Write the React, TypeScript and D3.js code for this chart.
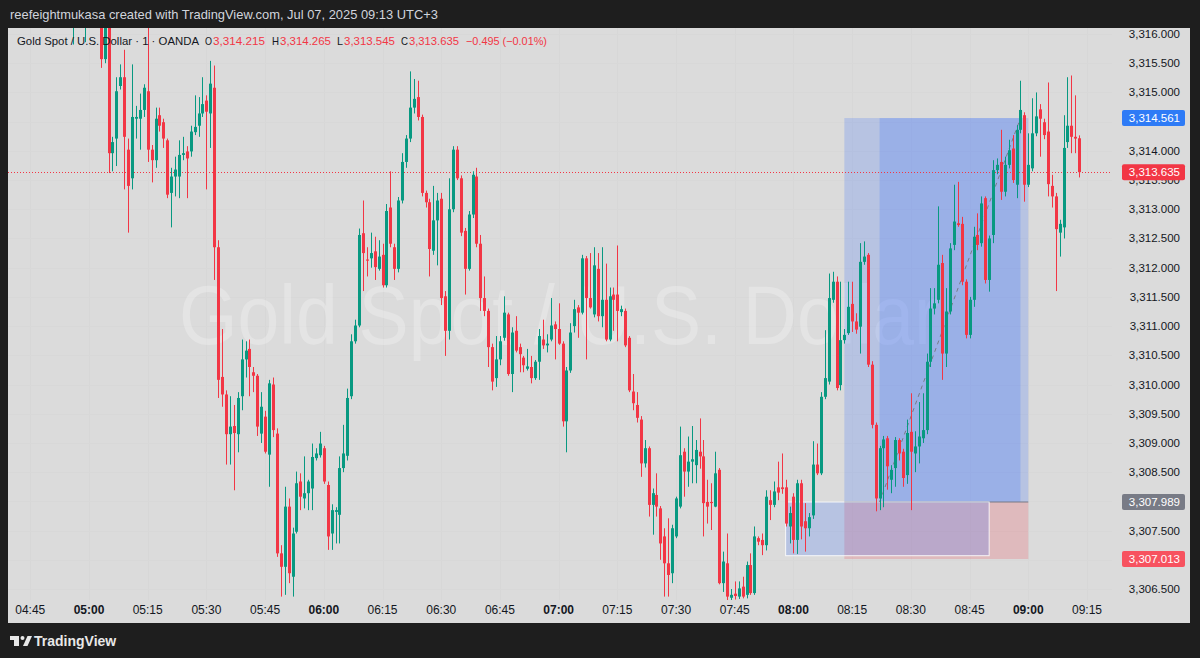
import React from "react";
import * as d3 from "d3";

// Gold Spot / U.S. Dollar, 1-minute bars (OANDA), Jul 07 2025, UTC+3
// Each bar: [open, high, low, close]; first bar is at 04:54 (minute -6 from 05:00)
const FIRST_MINUTE = -6;
const candles: [number, number, number, number][] = [
  [3316.45, 3316.7, 3316.2, 3316.6],
  [3316.6, 3316.8, 3316.3, 3316.4],
  [3316.4, 3316.6, 3315.82, 3316.5],
  [3316.5, 3316.9, 3316.3, 3316.7],
  [3316.7, 3316.9, 3316.4, 3316.5],
  [3316.5, 3316.8, 3315.86, 3316.6],
  [3316.6, 3316.9, 3316.3, 3316.5],
  [3316.5, 3316.7, 3316.2, 3316.35],
  [3316.35, 3316.6, 3316.15, 3316.3],
  [3316.3, 3316.45, 3315.42, 3315.57],
  [3315.57, 3316.4, 3315.5, 3316.3],
  [3316.3, 3316.4, 3313.62, 3313.96],
  [3313.96, 3314.24, 3313.65, 3314.15],
  [3314.21, 3315.26, 3313.74, 3315.02],
  [3315.11, 3315.48, 3315.05, 3315.26],
  [3315.26, 3315.73, 3313.34, 3314.24],
  [3314.02, 3314.21, 3312.6, 3313.4],
  [3313.53, 3315.48, 3313.34, 3314.58],
  [3314.55, 3314.77, 3314.21, 3314.58],
  [3314.55, 3314.98, 3314.02, 3314.7],
  [3314.7, 3315.14, 3314.58, 3315.08],
  [3315.02, 3316.2, 3313.81, 3314.02],
  [3314.02, 3314.1, 3313.46, 3313.84],
  [3313.84, 3314.74, 3313.71, 3314.55],
  [3314.61, 3314.74, 3314.33, 3314.43],
  [3314.49, 3314.55, 3314.05, 3314.21],
  [3314.18, 3314.21, 3313.19, 3313.25],
  [3313.28, 3313.71, 3312.69, 3313.56],
  [3313.56, 3313.9, 3313.22, 3313.68],
  [3313.56, 3314.18, 3313.19, 3313.93],
  [3313.93, 3314.24, 3313.84, 3313.96],
  [3313.99, 3314.08, 3313.19, 3313.87],
  [3313.99, 3314.43, 3313.9, 3314.33],
  [3314.32, 3314.95, 3314.27, 3314.41],
  [3314.43, 3314.92, 3314.24, 3314.64],
  [3314.64, 3315.26, 3314.58, 3314.8],
  [3314.86, 3314.95, 3313.34, 3314.67],
  [3314.64, 3315.54, 3314.05, 3315.15],
  [3315.08, 3315.46, 3311.79, 3312.35],
  [3312.35, 3312.47, 3309.77, 3310.08],
  [3310.13, 3310.95, 3309.62, 3309.83],
  [3309.83, 3309.9, 3308.63, 3309.15],
  [3309.15, 3309.8, 3308.63, 3309.28],
  [3309.29, 3309.65, 3308.19, 3309.17],
  [3309.15, 3309.87, 3308.84, 3309.77],
  [3309.8, 3310.77, 3309.56, 3310.43],
  [3310.43, 3310.74, 3310.12, 3310.58],
  [3310.61, 3310.77, 3309.8, 3310.3],
  [3310.21, 3310.3, 3309.87, 3310.15],
  [3310.15, 3310.18, 3309.12, 3309.28],
  [3309.16, 3309.87, 3309.0, 3309.62],
  [3309.45, 3309.55, 3308.82, 3308.85],
  [3308.8, 3310.08, 3308.25, 3310.02],
  [3310.0, 3310.12, 3309.1, 3309.22],
  [3309.16, 3309.25, 3307.05, 3307.11],
  [3307.11, 3307.25, 3306.37, 3306.88],
  [3306.88, 3308.25, 3306.4, 3307.91],
  [3307.91, 3308.05, 3306.6, 3306.77],
  [3306.71, 3307.55, 3306.37, 3307.45],
  [3307.48, 3308.51, 3307.45, 3308.31],
  [3308.34, 3308.48, 3307.85, 3308.08],
  [3308.05, 3308.77, 3307.88, 3308.14],
  [3308.14, 3308.37, 3307.85, 3308.34],
  [3308.22, 3308.99, 3307.85, 3308.76],
  [3308.74, 3308.91, 3308.7, 3308.82],
  [3308.79, 3309.19, 3308.75, 3308.99],
  [3308.91, 3308.95, 3308.3, 3308.34],
  [3308.28, 3308.34, 3307.17, 3307.4],
  [3307.45, 3307.95, 3307.17, 3307.85],
  [3307.82, 3307.9, 3307.28, 3307.85],
  [3307.77, 3308.77, 3307.28, 3308.57],
  [3308.57, 3309.31, 3308.5, 3308.82],
  [3308.78, 3309.93, 3308.7, 3309.77],
  [3309.8, 3310.86, 3309.75, 3310.74],
  [3310.74, 3311.11, 3310.7, 3311.01],
  [3311.01, 3312.67, 3310.98, 3312.56],
  [3312.59, 3313.15, 3311.6, 3312.25],
  [3312.14, 3312.35, 3311.85, 3312.12],
  [3312.16, 3312.6, 3312.0, 3312.25],
  [3312.28, 3312.53, 3311.79, 3312.01],
  [3311.98, 3312.47, 3311.95, 3312.19],
  [3312.22, 3312.41, 3311.66, 3311.7],
  [3311.7, 3313.09, 3311.66, 3312.97],
  [3313.03, 3313.65, 3312.35, 3312.41],
  [3312.35, 3312.41, 3311.79, 3311.98],
  [3311.98, 3313.21, 3311.92, 3313.15],
  [3313.15, 3313.96, 3313.1, 3313.81],
  [3313.81, 3314.27, 3313.71, 3314.21],
  [3314.21, 3315.36, 3314.15, 3314.74],
  [3314.74, 3315.23, 3314.64, 3314.89],
  [3314.92, 3315.2, 3314.52, 3314.58],
  [3314.58, 3314.62, 3313.22, 3313.28],
  [3313.28, 3313.32, 3313.03, 3313.12],
  [3313.12, 3313.18, 3311.85, 3312.32],
  [3312.29, 3313.4, 3312.22, 3312.81],
  [3312.81, 3313.28, 3312.04, 3313.15],
  [3313.18, 3313.28, 3311.36, 3311.48],
  [3311.51, 3311.6, 3310.49, 3310.92],
  [3310.92, 3313.53, 3310.77, 3313.0],
  [3313.0, 3314.08, 3312.95, 3314.02],
  [3314.02, 3314.08, 3313.5, 3313.53],
  [3313.53, 3313.58, 3312.54, 3312.6],
  [3312.63, 3312.68, 3311.54, 3311.98],
  [3311.98, 3312.97, 3311.95, 3312.91],
  [3312.91, 3313.65, 3312.85, 3313.59],
  [3313.56, 3313.71, 3312.35, 3312.41],
  [3312.41, 3312.56, 3311.26, 3311.48],
  [3311.48, 3311.85, 3311.17, 3311.26],
  [3311.26, 3311.3, 3310.3, 3310.64],
  [3310.64, 3310.7, 3309.9, 3310.05],
  [3310.11, 3310.83, 3309.96, 3310.43],
  [3310.43, 3310.83, 3310.33, 3310.74],
  [3310.8, 3311.51, 3310.75, 3311.23],
  [3311.2, 3311.23, 3310.15, 3310.18],
  [3310.18, 3310.98, 3309.87, 3310.89],
  [3310.92, 3311.17, 3310.55, 3310.58],
  [3310.64, 3310.7, 3310.21, 3310.52],
  [3310.46, 3310.49, 3310.21, 3310.33],
  [3310.27, 3310.61, 3310.24, 3310.31],
  [3310.3, 3310.49, 3310.02, 3310.11],
  [3310.11, 3310.42, 3310.08, 3310.39],
  [3310.39, 3310.95, 3310.08, 3310.83],
  [3310.77, 3311.11, 3310.61, 3310.67],
  [3310.67, 3310.86, 3310.55, 3310.7],
  [3310.77, 3311.48, 3310.74, 3311.01],
  [3311.03, 3311.08, 3310.43, 3310.95],
  [3310.95, 3311.39, 3310.68, 3310.7],
  [3310.7, 3310.74, 3309.28, 3309.37],
  [3309.37, 3310.3, 3308.84, 3310.24],
  [3310.24, 3311.05, 3310.2, 3310.89],
  [3311.0, 3311.45, 3310.89, 3311.29],
  [3311.32, 3311.36, 3310.8, 3311.23],
  [3311.23, 3312.22, 3311.2, 3312.16],
  [3312.16, 3312.2, 3310.43, 3311.48],
  [3311.48, 3312.25, 3311.3, 3311.32],
  [3311.2, 3312.35, 3311.15, 3312.04],
  [3311.98, 3312.25, 3311.08, 3311.17],
  [3311.17, 3312.35, 3310.98, 3311.45],
  [3311.45, 3312.07, 3310.74, 3310.77],
  [3310.77, 3311.66, 3310.74, 3311.51],
  [3311.54, 3311.66, 3310.92, 3311.45],
  [3311.54, 3312.38, 3310.74, 3311.26],
  [3311.24, 3311.35, 3311.17, 3311.29],
  [3311.26, 3311.3, 3310.64, 3310.67],
  [3310.8, 3310.83, 3309.87, 3309.9],
  [3309.88, 3310.18, 3309.56, 3309.68],
  [3309.65, 3309.87, 3309.35, 3309.43],
  [3309.4, 3309.46, 3308.42, 3308.65],
  [3308.65, 3309.05, 3308.58, 3308.91],
  [3308.91, 3308.94, 3307.74, 3307.94],
  [3307.94, 3308.22, 3307.43, 3308.14],
  [3308.11, 3308.48, 3307.74, 3307.91],
  [3307.88, 3307.92, 3307.0, 3307.28],
  [3307.4, 3307.54, 3306.37, 3306.94],
  [3306.94, 3307.71, 3306.37, 3306.74],
  [3306.77, 3307.6, 3306.6, 3307.54],
  [3307.4, 3308.08, 3307.37, 3308.05],
  [3307.91, 3309.28, 3307.88, 3308.79],
  [3308.85, 3308.91, 3308.08, 3308.51],
  [3308.51, 3309.11, 3308.25, 3308.68],
  [3308.68, 3309.29, 3308.31, 3308.72],
  [3308.62, 3309.05, 3308.31, 3308.88],
  [3308.85, 3309.42, 3308.56, 3308.77],
  [3308.77, 3309.05, 3307.4, 3307.97],
  [3307.99, 3308.37, 3307.62, 3307.91],
  [3307.99, 3308.31, 3307.51, 3307.97],
  [3307.91, 3308.85, 3307.9, 3308.48],
  [3308.54, 3308.57, 3306.58, 3306.6],
  [3306.6, 3307.14, 3306.45, 3306.97],
  [3306.94, 3307.45, 3306.3, 3306.37],
  [3306.35, 3306.5, 3306.28, 3306.4],
  [3306.42, 3306.63, 3306.32, 3306.38],
  [3306.37, 3306.63, 3306.33, 3306.51],
  [3306.54, 3306.71, 3306.34, 3306.37],
  [3306.4, 3306.97, 3306.34, 3306.91],
  [3306.91, 3307.11, 3306.4, 3306.43],
  [3306.43, 3307.57, 3306.4, 3307.4],
  [3307.37, 3307.4, 3307.25, 3307.31],
  [3307.34, 3307.45, 3307.08, 3307.25],
  [3307.25, 3308.19, 3307.16, 3308.08],
  [3308.02, 3308.19, 3307.68, 3307.94],
  [3307.94, 3308.34, 3307.9, 3308.17],
  [3308.24, 3308.68, 3308.02, 3308.15],
  [3308.24, 3308.82, 3308.13, 3308.21],
  [3308.24, 3308.37, 3307.57, 3307.62],
  [3307.57, 3307.91, 3307.28, 3307.8],
  [3308.08, 3308.14, 3307.11, 3307.34],
  [3307.34, 3308.37, 3307.1, 3308.31],
  [3308.31, 3308.37, 3307.35, 3307.57],
  [3307.66, 3307.97, 3307.14, 3307.54],
  [3307.54, 3307.8, 3307.4, 3307.73],
  [3307.76, 3309.03, 3307.7, 3308.63],
  [3308.63, 3308.99, 3308.45, 3308.48],
  [3308.48, 3309.87, 3308.45, 3309.79],
  [3309.79, 3310.93, 3309.75, 3310.11],
  [3310.05, 3311.9, 3310.0, 3311.48],
  [3311.45, 3311.93, 3311.4, 3311.76],
  [3311.76, 3311.85, 3309.9, 3309.94],
  [3309.99, 3311.76, 3309.9, 3310.76],
  [3310.76, 3310.95, 3310.7, 3310.85],
  [3310.88, 3311.76, 3310.85, 3311.33],
  [3311.38, 3311.76, 3310.9, 3311.08],
  [3311.08, 3311.22, 3310.87, 3310.94],
  [3310.99, 3312.42, 3310.53, 3312.1],
  [3312.1, 3312.45, 3312.05, 3312.19],
  [3312.22, 3312.25, 3310.3, 3310.34],
  [3310.34, 3310.4, 3309.25, 3309.31],
  [3309.31, 3309.35, 3307.83, 3308.05],
  [3308.05, 3308.95, 3307.85, 3308.91],
  [3308.91, 3309.12, 3307.9, 3309.06],
  [3309.08, 3309.12, 3308.2, 3308.6],
  [3308.37, 3308.62, 3308.14, 3308.54],
  [3308.57, 3309.1, 3308.25, 3309.05],
  [3309.05, 3309.08, 3308.7, 3308.82],
  [3308.85, 3308.9, 3308.25, 3308.4],
  [3308.45, 3309.4, 3308.3, 3309.17],
  [3309.19, 3309.85, 3307.85, 3308.85],
  [3308.82, 3309.2, 3308.5, 3308.94],
  [3308.94, 3309.7, 3308.65, 3309.11],
  [3309.08, 3309.85, 3309.0, 3309.22],
  [3309.22, 3310.53, 3309.15, 3310.39],
  [3310.39, 3311.65, 3310.3, 3311.3],
  [3311.3, 3311.65, 3311.2, 3311.39],
  [3311.45, 3313.05, 3311.39, 3312.05],
  [3312.08, 3312.22, 3310.08, 3310.53],
  [3310.53, 3311.65, 3310.3, 3311.25],
  [3311.25, 3312.42, 3311.2, 3312.33],
  [3312.39, 3313.42, 3312.3, 3312.79],
  [3312.76, 3313.47, 3312.7, 3312.73],
  [3312.75, 3312.87, 3311.7, 3311.76],
  [3311.76, 3311.8, 3310.79, 3310.85],
  [3310.85, 3311.5, 3310.79, 3311.45],
  [3311.45, 3312.7, 3311.33, 3312.53],
  [3312.56, 3312.93, 3312.3, 3312.39],
  [3312.42, 3313.22, 3312.36, 3313.1],
  [3313.19, 3313.22, 3311.73, 3311.79],
  [3311.79, 3312.55, 3311.59, 3312.5],
  [3312.56, 3313.84, 3312.42, 3313.67],
  [3313.67, 3313.87, 3313.6, 3313.76],
  [3313.81, 3314.36, 3313.16, 3313.3],
  [3313.3, 3313.9, 3313.22, 3313.76],
  [3313.76, 3314.19, 3313.7, 3314.01],
  [3314.04, 3314.27, 3313.45, 3313.5],
  [3313.42, 3314.44, 3313.19, 3314.36],
  [3314.36, 3315.2, 3314.3, 3314.7],
  [3314.61, 3314.66, 3313.13, 3313.42],
  [3313.42, 3314.3, 3313.38, 3313.76],
  [3313.7, 3314.9, 3313.65, 3314.3],
  [3314.3, 3315.0, 3314.25, 3314.59],
  [3314.71, 3314.8, 3313.9, 3314.55],
  [3314.49, 3314.55, 3314.2, 3314.27],
  [3314.33, 3315.17, 3313.22, 3313.43],
  [3313.4, 3313.59, 3313.03, 3313.22],
  [3313.22, 3313.28, 3311.6, 3312.66],
  [3312.6, 3312.82, 3312.19, 3312.75],
  [3312.69, 3314.61, 3312.5, 3314.05],
  [3314.15, 3315.26, 3314.05, 3314.43],
  [3314.43, 3315.29, 3313.96, 3314.24],
  [3314.24, 3314.95, 3313.96, 3314.21],
  [3314.215, 3314.265, 3313.545, 3313.635],
];

// Time axis (minutes after 05:00) and labels
const timeTickMinutes = [-15, 0, 15, 30, 45, 60, 75, 90, 105, 120, 135, 150, 165, 180, 195, 210, 225, 240, 255];
const timeTickLabels = ["04:45", "05:00", "05:15", "05:30", "05:45", "06:00", "06:15", "06:30", "06:45", "07:00", "07:15", "07:30", "07:45", "08:00", "08:15", "08:30", "08:45", "09:00", "09:15"];

// Price axis
const priceTicks = [3316, 3315.5, 3315, 3314.5, 3314, 3313.5, 3313, 3312.5, 3312, 3311.5, 3311, 3310.5, 3310, 3309.5, 3309, 3308.5, 3308, 3307.5, 3307, 3306.5];

// Legend values
const legendO = 3314.215;
const legendH = 3314.265;
const legendL = 3313.545;
const legendC = 3313.635;
const legendChange = -0.495;
const legendChangePct = -0.01;

// Long position drawing (prices and minutes after 05:00)
const posEntry = 3307.989;
const posTarget = 3314.561;
const posStop = 3307.013;
const posStartMin = 193;
const posEndMin = 240;
const posFillStartMin = 202;
const posFillEndMin = 238;
// Small second box
const boxStartMin = 178;
const boxEndMin = 230;
const boxTop = 3307.989;
const boxBottom = 3307.07;

// Price tags on the axis
const tagValues = [posTarget, legendC, posEntry, posStop];

const UP = "#089981";
const DOWN = "#f23645";
const tagColors = ["#2e7bf6", "#f23645", "#787b86", "#f7525f"];
const FONT = "'Liberation Sans', Arial, sans-serif";

export default function App() {
  const x = d3.scaleLinear().domain([0, 255]).range([89, 1087]);
  const y = d3.scaleLinear().domain([3306.5, 3316]).range([589, 34]);
  const fmt = d3.format(",.3f");
  const plotL = 8, plotR = 1112, plotT = 28, plotB = 600;

  const bars = candles.map((c, i) => {
    const [o, h, l, cl] = c;
    const cx = Math.round(x(i + FIRST_MINUTE));
    const up = cl >= o;
    const top = y(Math.max(o, cl));
    const bot = y(Math.min(o, cl));
    return { cx, up, top, bot, hy: y(Math.max(h, o, cl)), ly: y(Math.min(l, o, cl)), key: i };
  });

  // tick labels hidden behind an axis tag
  const visibleTicks = priceTicks.filter((p) => tagValues.every((v) => Math.abs(y(v) - y(p)) > 6));

  const legendParts: { x: number; t: string; c: string; w?: number }[] = [
    { x: 17, t: "Gold Spot / U.S. Dollar · 1 · OANDA", c: "#131722", w: 182 },
    { x: 205, t: "O", c: "#131722", w: 7 },
    { x: 213, t: fmt(legendO), c: DOWN, w: 52 },
    { x: 272, t: "H", c: "#131722", w: 7 },
    { x: 280, t: fmt(legendH), c: DOWN, w: 51 },
    { x: 337, t: "L", c: "#131722", w: 6 },
    { x: 344, t: fmt(legendL), c: DOWN, w: 51 },
    { x: 401, t: "C", c: "#131722", w: 7 },
    { x: 409, t: fmt(legendC), c: DOWN, w: 50 },
    { x: 466, t: `${d3.format(".3f")(legendChange).replace("-", "−")} (${d3.format(".2f")(legendChangePct).replace("-", "−")}%)`, c: DOWN, w: 81 },
  ];

  return (
    <svg width={1200} height={658} style={{ position: "absolute", left: 0, top: 0, display: "block" }} fontFamily={FONT}>
      <defs>
        <clipPath id="plot">
          <rect x={plotL} y={plotT} width={plotR - plotL} height={plotB - plotT} />
        </clipPath>
      </defs>
      <rect x={0} y={0} width={1200} height={658} fill="#1e1e1e" />
      <rect x={8} y={28} width={1182} height={595} fill="#dbdbdb" />
      <text x={10} y={19} fontSize={13} fill="#d1d4dc" textLength={428} lengthAdjust="spacingAndGlyphs">
        reefeightmukasa created with TradingView.com, Jul 07, 2025 09:13 UTC+3
      </text>

      <g clipPath="url(#plot)">
        {timeTickMinutes.map((m) => (
          <line key={"vg" + m} x1={Math.round(x(m)) + 0.5} x2={Math.round(x(m)) + 0.5} y1={plotT} y2={plotB} stroke="#d7d7d7" />
        ))}
        {priceTicks.map((p) => (
          <line key={"hg" + p} x1={plotL} x2={plotR} y1={Math.round(y(p)) + 0.5} y2={Math.round(y(p)) + 0.5} stroke="#d8d8d8" />
        ))}
        <text x={559} y={344} fontSize={84} fill="#ffffff" fillOpacity={0.26} textAnchor="middle" textLength={760} lengthAdjust="spacingAndGlyphs">
          Gold Spot / U.S. Dollar
        </text>

        {/* long position */}
        <rect x={x(posStartMin)} y={y(posTarget)} width={x(posEndMin) - x(posStartMin)} height={y(posEntry) - y(posTarget)} fill="#2962ff" fillOpacity={0.2} />
        <rect x={x(posFillStartMin)} y={y(posTarget)} width={x(posFillEndMin) - x(posFillStartMin)} height={y(posEntry) - y(posTarget)} fill="#2962ff" fillOpacity={0.2} />
        <rect x={x(posStartMin)} y={y(posEntry)} width={x(posEndMin) - x(posStartMin)} height={y(posStop) - y(posEntry)} fill="#f23645" fillOpacity={0.2} />
        <line x1={x(posStartMin)} x2={x(posEndMin)} y1={y(posEntry)} y2={y(posEntry)} stroke="#787b86" strokeWidth={1} />
        <rect x={x(boxStartMin)} y={y(boxTop)} width={x(boxEndMin) - x(boxStartMin)} height={y(boxBottom) - y(boxTop)} fill="#2962ff" fillOpacity={0.2} stroke="#ffffff" strokeOpacity={0.85} strokeWidth={1} />
        <line x1={x(posFillStartMin)} y1={y(posEntry)} x2={x(posFillEndMin)} y2={y(posTarget)} stroke="#787b86" strokeWidth={1} strokeDasharray="4,4" />

        {/* last price line */}
        <line x1={plotL} x2={plotR} y1={Math.round(y(legendC)) + 0.5} y2={Math.round(y(legendC)) + 0.5} stroke={DOWN} strokeDasharray="1,2" />

        {bars.map((b) => {
          const col = b.up ? UP : DOWN;
          const bh = Math.max(1, b.bot - b.top);
          return (
            <g key={b.key}>
              <rect x={b.cx} y={b.hy} width={1} height={Math.max(1, b.ly - b.hy)} fill={col} />
              <rect x={b.cx - 1} y={b.top} width={3} height={bh} fill={col} />
            </g>
          );
        })}
      </g>

      {legendParts.map((p, i) => (
        <text key={"lg" + i} x={p.x} y={45} fontSize={11} fill={p.c} textLength={p.w} lengthAdjust="spacingAndGlyphs">
          {p.t}
        </text>
      ))}

      {/* price axis */}
      {visibleTicks.map((p) => (
        <text key={"pt" + p} x={1180} y={y(p)} dy="0.35em" fontSize={11.5} fill="#131722" textAnchor="end">
          {fmt(p)}
        </text>
      ))}
      {tagValues.map((v, i) => (
        <g key={"tag" + i}>
          <rect x={1122} y={y(v) - 8} width={63} height={16} rx={2} fill={tagColors[i]} />
          <text x={1180} y={y(v)} dy="0.35em" fontSize={11.5} fill="#ffffff" textAnchor="end">
            {fmt(v)}
          </text>
        </g>
      ))}

      {/* time axis */}
      {timeTickMinutes.map((m, i) => (
        <text key={"tt" + m} x={x(m)} y={614} fontSize={12} fill="#131722" textAnchor="middle" fontWeight={timeTickLabels[i].endsWith(":00") ? 700 : 400}>
          {timeTickLabels[i]}
        </text>
      ))}

      {/* TradingView logo */}
      <g fill="#e8e8e8">
        <rect x={10} y={636} width={9} height={4} />
        <rect x={14} y={636} width={5} height={10} />
        <circle cx={22.5} cy={638} r={2} />
        <polygon points="23,646 27.5,636 32,636 27.5,646" />
      </g>
      <text x={34} y={646} fontSize={14} fill="#e8e8e8" fontWeight={600}>
        TradingView
      </text>
    </svg>
  );
}
